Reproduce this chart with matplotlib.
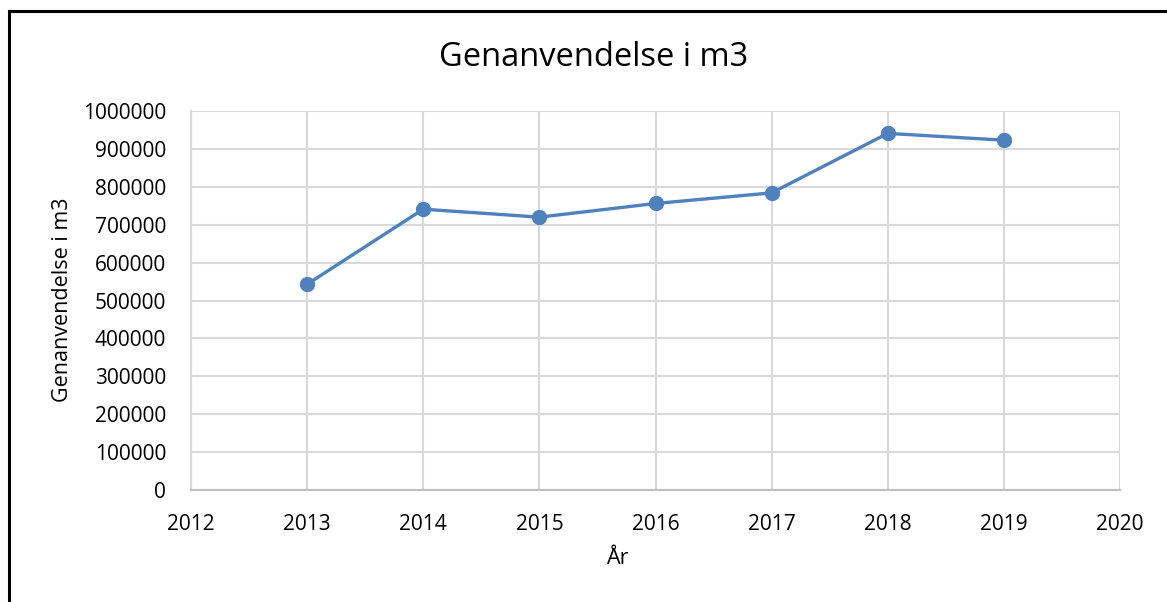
import matplotlib
matplotlib.use("Agg")
import matplotlib.pyplot as plt
from matplotlib.lines import Line2D

# Data
years = [2013, 2014, 2015, 2016, 2017, 2018, 2019]
genanvendelse = [543000, 741000, 720000, 756000, 784000, 941000, 923000]

x_ticks = list(range(2012, 2021))
y_ticks = list(range(0, 1000001, 100000))

plt.rcParams['font.family'] = ['Open Sans', 'DejaVu Sans']

fig = plt.figure(figsize=(11.67, 6.02), dpi=100)
ax = fig.add_axes([0.1637, 0.1860, 0.7960, 0.6296])

grid_col = '#d9d9d9'
blue = '#4f81bd'

ax.plot(years, genanvendelse, color=blue, linewidth=2.4, marker='o',
        markersize=10, markerfacecolor=blue, markeredgecolor=blue, zorder=3)

ax.set_xlim(2012, 2020)
ax.set_ylim(0, 1000000)
ax.set_xticks(x_ticks)
ax.set_yticks(y_ticks)
ax.set_xticklabels([str(v) for v in x_ticks])
ax.set_yticklabels([str(v) for v in y_ticks])
ax.tick_params(axis='both', length=0, labelsize=15, colors='black')
ax.tick_params(axis='y', pad=18)
ax.tick_params(axis='x', pad=17)

ax.grid(True, color=grid_col, linewidth=1.5)
ax.set_axisbelow(True)
for side in ['top', 'right']:
    ax.spines[side].set_visible(False)
ax.spines['left'].set_color(grid_col)
ax.spines['left'].set_linewidth(1.5)
ax.spines['bottom'].set_color('#bfbfbf')
ax.spines['bottom'].set_linewidth(1.5)

# axis titles placed like the reference (År sits left of the axes centre)
fig.text(617 / 1167, 1 - 558 / 602, 'År', fontsize=15.5,
         ha='center', va='center')
fig.text(62 / 1167, 1 - 300 / 602, 'Genanvendelse i m3', fontsize=15.5,
         ha='center', va='center', rotation=90)
fig.text(594 / 1167, 1 - 58 / 602, 'Genanvendelse i m3', fontsize=23.5,
         ha='center', va='center')

# chart frame (cut off on right and bottom in the reference)
fig.add_artist(Line2D([9 / 1167, 9 / 1167], [0, 1 - 11 / 602],
                      transform=fig.transFigure, color='black', linewidth=2.2))
fig.add_artist(Line2D([9 / 1167, 1], [1 - 11 / 602, 1 - 11 / 602],
                      transform=fig.transFigure, color='black', linewidth=2.2))

fig.savefig('out.png', dpi=100)
